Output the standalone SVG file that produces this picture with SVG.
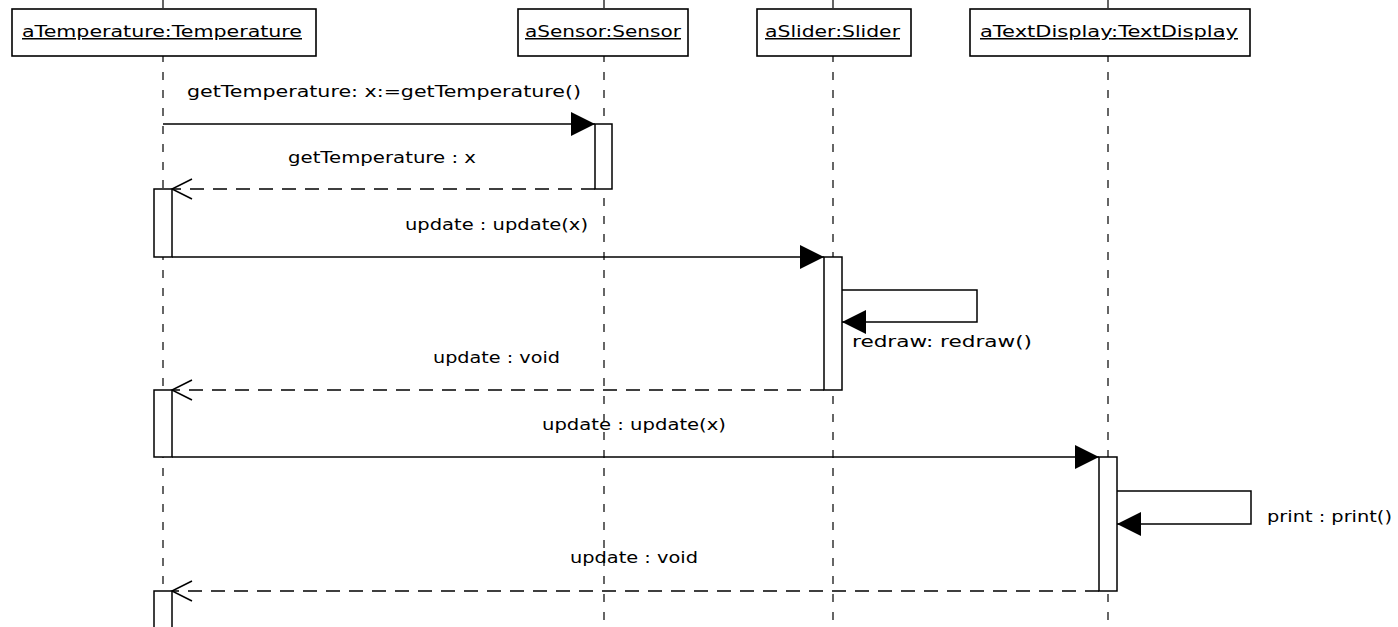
<svg xmlns="http://www.w3.org/2000/svg" width="1398" height="627" viewBox="0 0 1398 627">
<style>
.box{fill:#fff;stroke:#000;stroke-width:1.6}
.act{fill:#fff;stroke:#000;stroke-width:1.5}
.life{stroke:#000;stroke-width:1.2;stroke-dasharray:8 10;fill:none}
.msg{stroke:#000;stroke-width:1.5;fill:none}
.ret{stroke:#000;stroke-width:1.5;fill:none;stroke-dasharray:14 9}
.t{font-family:"DejaVu Sans","Liberation Sans",sans-serif;font-size:15px;fill:#000}
.h{font-family:"DejaVu Sans","Liberation Sans",sans-serif;font-size:15px;fill:#000;text-decoration:underline}
</style>
<defs>
<marker id="fill" markerUnits="userSpaceOnUse" markerWidth="26" markerHeight="26" refX="24" refY="12" orient="auto" viewBox="0 0 26 26"><path d="M0,0 L24,12 L0,24 z" fill="#000"/></marker>
<marker id="open" markerUnits="userSpaceOnUse" markerWidth="24" markerHeight="24" refX="21" refY="11" orient="auto" viewBox="0 0 24 24"><path d="M1,1 L21,11 L1,21" fill="none" stroke="#000" stroke-width="1.5"/></marker>
</defs>
<g id="lifelines">
<line class="life" x1="163" y1="0" x2="163" y2="627" stroke-dasharray="8 52 8 10"/>
<line class="life" x1="604" y1="0" x2="604" y2="627" stroke-dasharray="8 52 8 10"/>
<line class="life" x1="833" y1="0" x2="833" y2="627" stroke-dasharray="8 52 8 10"/>
<line class="life" x1="1108" y1="0" x2="1108" y2="627" stroke-dasharray="8 52 8 10"/>
</g>
<g id="aTemperature"><rect class="box" x="12" y="9" width="304" height="47"/><text class="h" x="22" y="37" textLength="280" lengthAdjust="spacingAndGlyphs">aTemperature:Temperature</text></g>
<g id="aSensor"><rect class="box" x="518" y="9" width="170" height="47"/><text class="h" x="525" y="37" textLength="156" lengthAdjust="spacingAndGlyphs">aSensor:Sensor</text></g>
<g id="aSlider"><rect class="box" x="757" y="9" width="154" height="47"/><text class="h" x="765" y="37" textLength="135" lengthAdjust="spacingAndGlyphs">aSlider:Slider</text></g>
<g id="aTextDisplay"><rect class="box" x="970" y="9" width="280" height="47"/><text class="h" x="980" y="37" textLength="258" lengthAdjust="spacingAndGlyphs">aTextDisplay:TextDisplay</text></g>
<g id="labels">
<text class="t" x="187" y="97" textLength="394" lengthAdjust="spacingAndGlyphs">getTemperature: x:=getTemperature()</text>
<text class="t" x="288" y="163" textLength="188" lengthAdjust="spacingAndGlyphs">getTemperature : x</text>
<text class="t" x="405" y="230" textLength="183" lengthAdjust="spacingAndGlyphs">update : update(x)</text>
<text class="t" x="852" y="347" textLength="180" lengthAdjust="spacingAndGlyphs">redraw: redraw()</text>
<text class="t" x="433" y="363" textLength="127" lengthAdjust="spacingAndGlyphs">update : void</text>
<text class="t" x="542" y="430" textLength="184" lengthAdjust="spacingAndGlyphs">update : update(x)</text>
<text class="t" x="1267" y="522" textLength="125" lengthAdjust="spacingAndGlyphs">print : print()</text>
<text class="t" x="570" y="563" textLength="128" lengthAdjust="spacingAndGlyphs">update : void</text>
</g>
<g id="connectors">
<line class="msg" x1="163" y1="124" x2="595" y2="124" marker-end="url(#fill)"/>
<line class="ret" x1="595" y1="189" x2="172" y2="189" marker-end="url(#open)"/>
<line class="msg" x1="172" y1="257" x2="824" y2="257" marker-end="url(#fill)"/>
<polyline class="msg" points="842,290 977,290 977,322 842,322" marker-end="url(#fill)"/>
<line class="ret" x1="824" y1="390" x2="172" y2="390" marker-end="url(#open)"/>
<line class="msg" x1="172" y1="457" x2="1099" y2="457" marker-end="url(#fill)"/>
<polyline class="msg" points="1117,491 1251,491 1251,524 1117,524" marker-end="url(#fill)"/>
<line class="ret" x1="1099" y1="591" x2="172" y2="591" marker-end="url(#open)"/>
</g>
<g id="activations">
<rect class="act" x="595" y="124" width="17" height="65"/>
<rect class="act" x="154" y="189" width="18" height="68"/>
<rect class="act" x="824" y="257" width="18" height="133"/>
<rect class="act" x="154" y="390" width="18" height="67"/>
<rect class="act" x="1099" y="457" width="18" height="134"/>
<rect class="act" x="154" y="591" width="18" height="40"/>
</g>
</svg>
